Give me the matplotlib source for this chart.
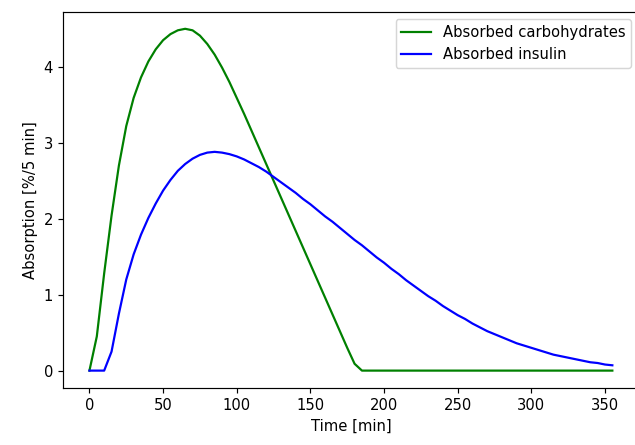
import numpy as np
import matplotlib
matplotlib.use("Agg")
import matplotlib.pyplot as plt

# time axis, every 5 min from 0 to 355
time_min = np.arange(0, 360, 5)

carbs = [0.0, 0.45, 1.28, 2.04, 2.70, 3.22, 3.59, 3.86, 4.07, 4.23,
         4.35, 4.43, 4.48, 4.50, 4.48, 4.41, 4.30, 4.16, 3.99, 3.80,
         3.59, 3.38, 3.16, 2.94, 2.72, 2.50, 2.28, 2.06, 1.84, 1.62,
         1.40, 1.18, 0.96, 0.74, 0.52, 0.30, 0.09, 0.0] + [0.0] * 34

insulin = [0.0, 0.0, 0.0, 0.25, 0.75, 1.20, 1.53, 1.79, 2.01, 2.20,
           2.37, 2.51, 2.63, 2.72, 2.79, 2.84, 2.87, 2.88, 2.87, 2.85,
           2.82, 2.78, 2.73, 2.68, 2.62, 2.55, 2.48, 2.41, 2.34, 2.26,
           2.19, 2.11, 2.03, 1.96, 1.88, 1.80, 1.72, 1.65, 1.57, 1.49,
           1.42, 1.34, 1.27, 1.19, 1.12, 1.05, 0.98, 0.92, 0.85, 0.79,
           0.73, 0.68, 0.62, 0.57, 0.52, 0.48, 0.44, 0.40, 0.36, 0.33,
           0.30, 0.27, 0.24, 0.21, 0.19, 0.17, 0.15, 0.13, 0.11, 0.10,
           0.08, 0.07]

dpi = 106
fig = plt.figure(figsize=(635 / dpi, 445 / dpi), dpi=dpi)
ax = fig.add_axes([63.3 / 635, (445 - 387.7) / 445, (638.5 - 63.3) / 635, (387.7 - 11.7) / 445])

ax.plot(time_min, carbs, color="green", label="Absorbed carbohydrates")
ax.plot(time_min, insulin, color="blue", label="Absorbed insulin")
ax.set_xlabel("Time [min]")
ax.set_ylabel("Absorption [%/5 min]")
ax.set_xticks(range(0, 351, 50))
ax.set_yticks(range(0, 5))
ax.legend(loc="upper right")

fig.savefig("out.png", dpi=dpi)
